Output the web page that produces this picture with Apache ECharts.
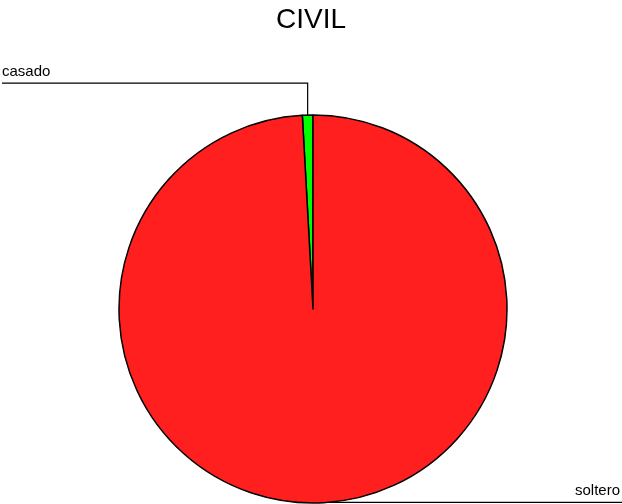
<!DOCTYPE html>
<html>
<head>
<meta charset="utf-8">
<script src="https://cdn.jsdelivr.net/npm/echarts@6/dist/echarts.min.js"></script>
<style>html,body{margin:0;padding:0;background:#fff}#c{width:622px;height:504px}</style>
</head>
<body>
<div id="c"></div>
<script>
var categories = ['casado', 'soltero'];
var values = [1, 113];
var colors = ['#00ff00', '#ff1f1f'];

var chart = echarts.init(document.getElementById('c'), null, {renderer: 'canvas'});
var data = categories.map(function (c, i) {
  return {name: c, value: values[i], itemStyle: {color: colors[i]}};
});
chart.setOption({
  animation: false,
  backgroundColor: '#ffffff',
  title: {
    text: 'CIVIL', left: 'center', top: 1,
    textStyle: {fontFamily: 'Liberation Sans', fontSize: 28, fontWeight: 'normal', color: '#000'}
  },
  series: [{
    type: 'pie',
    center: [313, 309],
    radius: 194,
    startAngle: 90,
    clockwise: false,
    data: data,
    itemStyle: {borderColor: '#000', borderWidth: 1.5},
    label: {
      show: true, position: 'outside', color: '#000',
      fontFamily: 'Liberation Sans', fontSize: 15
    },
    labelLine: {show: true, length: 20, length2: 20, lineStyle: {color: '#000', width: 1.2}},
    labelLayout: function (params) {
      var p0 = params.labelLinePoints ? params.labelLinePoints[0] : [0, 0];
      var w = chart.getWidth();
      if (params.dataIndex === 0) {
        var ly = p0[1] - 32;
        return {
          x: 2, y: ly - 11, align: 'left', verticalAlign: 'middle',
          labelLinePoints: [p0, [p0[0], ly], [2, ly]]
        };
      } else {
        var ly2 = p0[1] - 0.5;
        return {
          x: w - 2, y: ly2 - 12, align: 'right', verticalAlign: 'middle',
          labelLinePoints: [p0, [p0[0], ly2], [w, ly2]]
        };
      }
    }
  }]
});
</script>
</body>
</html>
